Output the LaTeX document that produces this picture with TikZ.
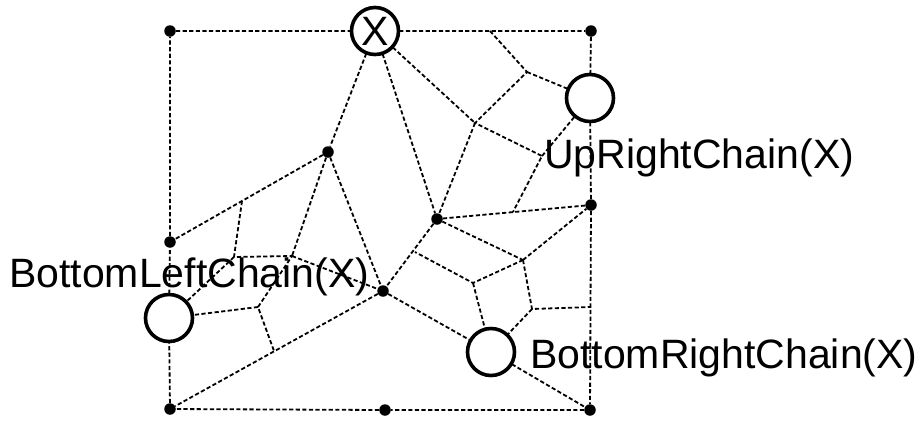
\documentclass[tikz,border=0pt]{standalone}
\usepackage{fontspec}
\setmainfont{Liberation Sans}
\begin{document}
\begin{tikzpicture}[x=1pt,y=-1pt,
  ln/.style={line width=1.8pt, dash pattern=on 4.2pt off 2.4pt},
  dot/.style={circle, fill=black, inner sep=0pt, minimum size=11.5pt},
  big/.style={circle, inner sep=0pt, minimum size=48pt},
  ring/.style={line width=3.6pt},
  lbl/.style={anchor=base west, inner sep=0pt, font=\fontsize{41}{48}\selectfont}]
\useasboundingbox (0,0) rectangle (917,421);
% vertices
\node[dot] (TL) at (170,31) {};
\node[dot] (TR) at (591,31) {};
\node[dot] (R1) at (591,205) {};
\node[dot] (BRd) at (590,410) {};
\node[dot] (BM) at (385,410) {};
\node[dot] (BLd) at (170,409) {};
\node[dot] (L1) at (170,242) {};
\node[dot] (P1) at (328,152) {};
\node[dot] (P2) at (437,219) {};
\node[dot] (P3) at (383,291) {};
% chain circles
\node[big] (X) at (375,31) {};
\node[big] (UR) at (590,98) {};
\node[big] (BL) at (169,318) {};
\node[big] (BR) at (491,352) {};
% inner vertices
\coordinate (Vt) at (490,31);
\coordinate (V2) at (527,72);
\coordinate (V1) at (475,123);
\coordinate (V3) at (542,156);
\coordinate (V4) at (513,212);
\coordinate (Vf) at (523,260);
\coordinate (Vg) at (473,283);
\coordinate (Vh) at (415,252);
\coordinate (Vi) at (532,309);
\coordinate (Vj) at (591,307);
\coordinate (Va) at (242,201);
\coordinate (Vb) at (234,257);
\coordinate (Vc) at (292,256);
\coordinate (Vd) at (258,307);
\coordinate (Ve) at (274,351);
% border
\draw[ln] (TL) -- (X) -- (TR) -- (UR) -- (R1) -- (BRd) -- (BM) -- (BLd) -- (BL) -- (L1) -- (TL);
% main edges
\draw[ln] (X) -- (P1);
\draw[ln] (X) -- (P2);
\draw[ln] (X) -- (V1);
\draw[ln] (V1) -- (P2);
\draw[ln] (P1) -- (L1);
\draw[ln] (P1) -- (P3);
\draw[ln] (P1) -- (Vc);
\draw[ln] (P2) -- (P3);
\draw[ln] (P2) -- (R1);
\draw[ln] (P3) -- (BLd);
\draw[ln] (P3) -- (BR);
\draw[ln] (BR) -- (BRd);
\draw[ln] (P2) -- (Vf);
\draw[ln] (Vf) -- (R1);
\draw[ln] (Vc) -- (P3);
\draw[ln] (V3) -- (UR);
\draw[ln] (V2) -- (UR);
% other edges
\draw[ln] (Vt) -- (V2) -- (V1) -- (V3) -- (V4);
\draw[ln] (Va) -- (Vb) -- (Vc) -- (Vd) -- (Ve);
\draw[ln] (Vb) -- (BL);
\draw[ln] (Vd) -- (BL);
\draw[ln] (Vf) -- (Vg) -- (Vh);
\draw[ln] (Vg) -- (BR);
\draw[ln] (Vf) -- (Vi) -- (Vj);
\draw[ln] (Vi) -- (BR);
% circles
\foreach \c in {X,UR,BL,BR} \draw[ring] (\c.center) circle[radius=23.5pt];
\node[font=\fontsize{41}{48}\selectfont, inner sep=0pt] (Xl) at (X.center) {X};
% labels
\node[lbl] (lUR) at (544,168) {UpRightChain(X)};
\node[lbl] (lBL) at (9,287) {BottomLeftChain(X)};
\node[lbl] (lBR) at (530,368) {BottomRightChain(X)};
\end{tikzpicture}
\end{document}
